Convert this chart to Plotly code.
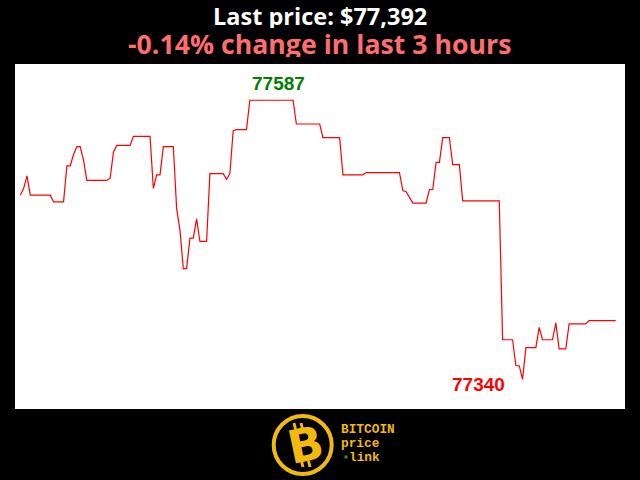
import plotly.graph_objects as go

# Price series (minute index within last 3 hours, USD price)
minutes = [0, 1, 2, 3, 9, 10, 13, 14, 15, 16, 17, 18, 19, 20, 26, 27, 28, 29, 33, 34,
           39, 40, 41, 42, 43, 46, 47, 48, 49, 50, 51, 52, 53, 54, 56, 57, 61, 62, 63, 64,
           65, 68, 69, 82, 83, 90, 91, 96, 97, 103, 104, 114, 115, 116, 118, 122, 123, 124,
           125, 126, 127, 129, 130, 132, 133, 144, 145, 148, 149, 150, 151, 152, 155, 156,
           157, 160, 161, 162, 164, 165, 170, 171, 179]
prices = [77503, 77509, 77520, 77503, 77503, 77497, 77497, 77529, 77529, 77539, 77546, 77546,
          77534, 77516, 77516, 77518, 77541, 77547, 77547, 77555, 77555, 77509, 77521, 77521,
          77546, 77546, 77491, 77472, 77438, 77438, 77465, 77465, 77482, 77462, 77462, 77522,
          77522, 77517, 77522, 77560, 77561, 77561, 77587, 77587, 77566, 77566, 77554, 77554,
          77521, 77521, 77523, 77523, 77507, 77506, 77496, 77496, 77508, 77508, 77532, 77532,
          77554, 77554, 77530, 77530, 77498, 77498, 77375, 77375, 77352, 77352, 77340, 77368,
          77368, 77386, 77375, 77375, 77390, 77367, 77367, 77389, 77389, 77392, 77392]

last_price = prices[-1]
change_pct = (prices[-1] - prices[0]) / prices[0] * 100
max_price = max(prices)
min_price = min(prices)

GOLD = "#f2b90f"

fig = go.Figure()
fig.add_trace(go.Scatter(x=minutes, y=prices, mode="lines",
                         line=dict(color="#ff0000", width=1.2), hoverinfo="skip"))

annotations = [
    dict(text=f"<b>Last price: ${last_price:,}</b>", xref="paper", yref="paper",
         x=0.5, y=1, xanchor="center", yanchor="middle", yshift=48, showarrow=False,
         height=24, font=dict(family="Open Sans", size=23.5, color="white")),
    dict(text=f"<b>{change_pct:.2f}% change in last 3 hours</b>", xref="paper", yref="paper",
         x=0.5, y=1, xanchor="center", yanchor="middle", yshift=21, showarrow=False,
         height=27, font=dict(family="Open Sans", size=26.7, color="#ff6e6e")),
    dict(text=f"<b>{max_price}</b>", x=77.5, y=max_price, xanchor="center", yanchor="middle",
         yshift=17, showarrow=False,
         font=dict(family="Liberation Sans", size=19, color="#008000")),
    dict(text=f"<b>{min_price}</b>", x=137.7, y=min_price, xanchor="center", yanchor="middle",
         yshift=-5.4, showarrow=False,
         font=dict(family="Liberation Sans", size=19, color="#ff0000")),
    # logo
    dict(text="<b>B</b>", xref="paper", yref="paper", x=0.5, y=0, xanchor="center",
         yanchor="middle", xshift=-15, yshift=-36, textangle=-12, showarrow=False,
         font=dict(family="DejaVu Sans", size=46, color=GOLD)),
    dict(text="<b>BITCOIN</b>", xref="paper", yref="paper", x=0.5, y=0, xanchor="left",
         yanchor="middle", xshift=19, yshift=-20.5, showarrow=False, height=13,
         font=dict(family="Liberation Mono", size=12.8, color=GOLD)),
    dict(text="<b>price</b>", xref="paper", yref="paper", x=0.5, y=0, xanchor="left",
         yanchor="middle", xshift=19, yshift=-34.5, showarrow=False, height=13,
         font=dict(family="Liberation Mono", size=12.8, color=GOLD)),
    dict(text="<b>link</b>", xref="paper", yref="paper", x=0.5, y=0, xanchor="left",
         yanchor="middle", xshift=27, yshift=-48.5, showarrow=False, height=13,
         font=dict(family="Liberation Mono", size=12.8, color=GOLD)),
]

px_shape = dict(xref="paper", yref="paper", xsizemode="pixel", ysizemode="pixel",
                xanchor=0.5, yanchor=0, layer="above")
shapes = [
    dict(type="circle", x0=-17.3 - 29, x1=-17.3 + 29, y0=-36 - 29, y1=-36 + 29,
         line=dict(color=GOLD, width=4), fillcolor="black", **px_shape),
    dict(type="rect", x0=24.5, x1=27.5, y0=-49.5, y1=-46.5,
         line=dict(width=0), fillcolor="#1fa01f", **px_shape),
    # bitcoin-sign ticks on the B
    dict(type="line", x0=-26, x1=-24.5, y0=-14, y1=-20, line=dict(color=GOLD, width=3), **px_shape),
    dict(type="line", x0=-19, x1=-17.5, y0=-14, y1=-20, line=dict(color=GOLD, width=3), **px_shape),
    dict(type="line", x0=-18.5, x1=-17, y0=-52, y1=-58, line=dict(color=GOLD, width=3), **px_shape),
    dict(type="line", x0=-11.5, x1=-10, y0=-52, y1=-58, line=dict(color=GOLD, width=3), **px_shape),
]

fig.update_layout(
    width=640, height=480,
    margin=dict(l=15, r=15, t=64, b=71),
    paper_bgcolor="black", plot_bgcolor="white",
    showlegend=False,
    xaxis=dict(range=[-1.6, 181.8], visible=False, fixedrange=True),
    yaxis=dict(range=[77313.7, 77619.1], visible=False, fixedrange=True),
    annotations=annotations,
    shapes=shapes,
)

fig.write_html("out.html", config={"displayModeBar": False},
               post_script="document.body.style.margin='0';document.body.style.background='black';")
